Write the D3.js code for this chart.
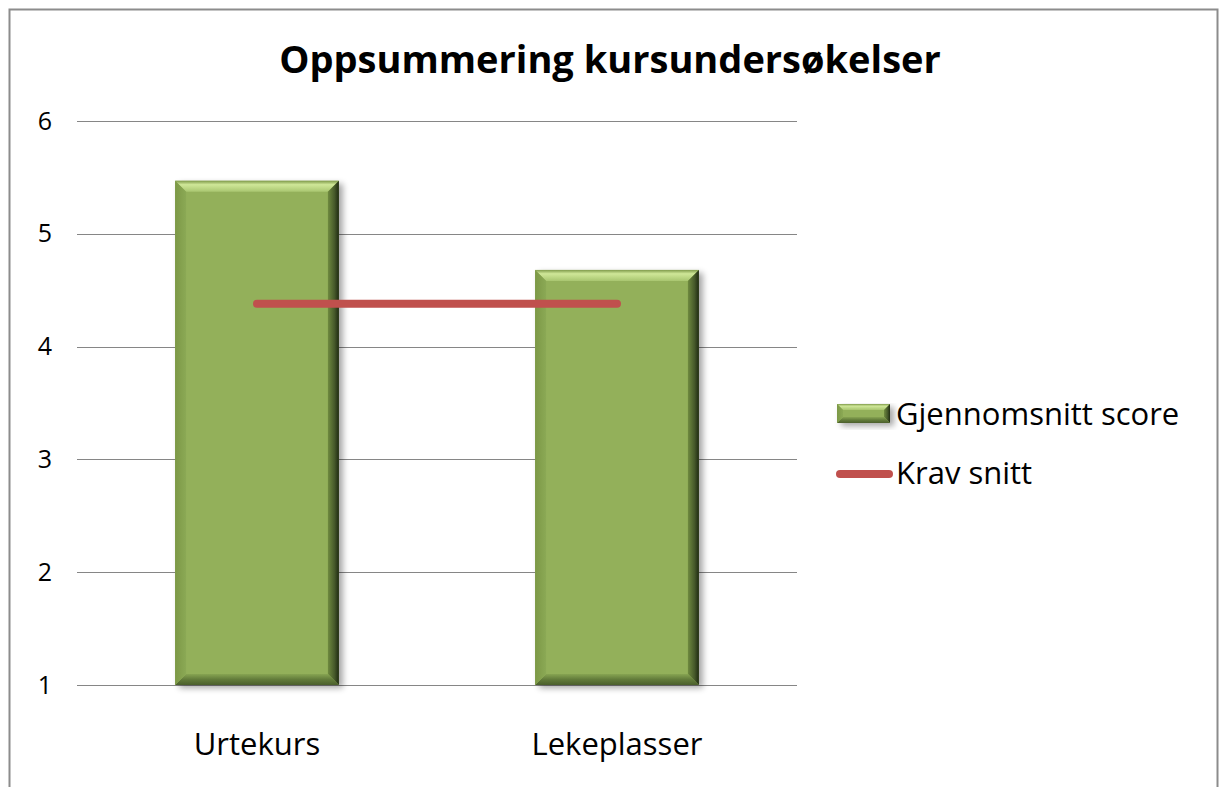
<!DOCTYPE html>
<html>
<head>
<meta charset="utf-8">
<script src="https://cdn.jsdelivr.net/npm/d3@7"></script>
<style>
  html, body { margin: 0; padding: 0; background: #fff; }
  svg { display: block; font-family: "Open Sans", sans-serif; }
</style>
</head>
<body>
<svg id="chart" width="1219" height="787"></svg>
<script>
// chart data
var categories  = [ 'Urtekurs', 'Lekeplasser' ];
var scores      = [ 5.47, 4.68 ];
var krav        = [ 4.38, 4.38 ];
var yTicks      = [ 1, 2, 3, 4, 5, 6 ];
var title       = 'Oppsummering kursundersøkelser';
var seriesNames = [ 'Gjennomsnitt score', 'Krav snitt' ];

var margin = { top: 121, left: 77, right: 422, bottom: 102 },
    width  = 1219 - margin.left - margin.right,
    height = 787 - margin.top - margin.bottom;

var svg = d3.select( '#chart' );

// outer frame
svg.append( 'rect' )
   .attr( 'x', 9.5 ).attr( 'y', 9.5 )
   .attr( 'width', 1208 ).attr( 'height', 790 )
   .attr( 'fill', 'none' ).attr( 'stroke', '#8c8c8c' ).attr( 'stroke-width', 2 );

var defs = svg.append( 'defs' );
var f = defs.append( 'filter' ).attr( 'id', 'shadow' )
  .attr( 'x', '-20%' ).attr( 'y', '-20%' ).attr( 'width', '140%' ).attr( 'height', '140%' );
f.append( 'feGaussianBlur' ).attr( 'stdDeviation', 3 );

function grad( id, x2, y2, stops ) {
  var lg = defs.append( 'linearGradient' ).attr( 'id', id )
    .attr( 'x1', 0 ).attr( 'y1', 0 ).attr( 'x2', x2 ).attr( 'y2', y2 );
  stops.forEach( function( s ) {
    lg.append( 'stop' ).attr( 'offset', s[ 0 ] ).attr( 'stop-color', s[ 1 ] );
  });
}
grad( 'gTop', 0, 1, [ [ 0, '#7f9a4a' ], [ 0.35, '#cfe798' ], [ 1, '#a9c670' ] ] );
grad( 'gRight', 1, 0, [ [ 0, '#6f8a3f' ], [ 0.6, '#46592a' ], [ 1, '#1f2a12' ] ] );
grad( 'gBottom', 0, 1, [ [ 0, '#87a452' ], [ 0.5, '#627b3a' ], [ 1, '#4b5f2c' ] ] );
grad( 'gLeft', 1, 0, [ [ 0, '#7c9846' ], [ 1, '#8ba955' ] ] );

svg.append( 'text' )
   .attr( 'x', 610 ).attr( 'y', 73 )
   .attr( 'text-anchor', 'middle' )
   .attr( 'font-size', 38 ).attr( 'font-weight', 'bold' )
   .text( title );

var g = svg.append( 'g' )
   .attr( 'transform', 'translate(' + margin.left + ',' + margin.top + ')' );

var xScale = d3.scaleBand()
   .domain( categories )
   .range( [ 0, width ] )
   .paddingInner( 0.545 ).paddingOuter( 0.2725 );

var xPoint = d3.scalePoint()
   .domain( categories )
   .range( [ 0, width ] )
   .padding( 0.5 );

var yScale = d3.scaleLinear()
   .domain( [ 1, 6 ] )
   .range( [ height, 0 ] );

// grid lines
g.selectAll( '.grid' )
 .data( yTicks )
 .enter()
 .append( 'line' )
   .attr( 'x1', 0 ).attr( 'x2', width )
   .attr( 'y1', function( d ) { return Math.round( yScale( d ) ) + 0.5; } )
   .attr( 'y2', function( d ) { return Math.round( yScale( d ) ) + 0.5; } )
   .attr( 'stroke', '#868686' ).attr( 'stroke-width', 1 );

var yAxis = d3.axisLeft( yScale ).tickValues( yTicks ).tickFormat( d3.format( 'd' ) )
   .tickSize( 0 ).tickPadding( 25 );
var yG = g.append( 'g' ).call( yAxis );
yG.select( '.domain' ).remove();
yG.selectAll( 'text' ).attr( 'font-size', 25 ).attr( 'fill', '#000' )
  .attr( 'font-family', '"Open Sans", sans-serif' );

var xAxis = d3.axisBottom( xScale ).tickSize( 0 );
var xG = g.append( 'g' ).attr( 'transform', 'translate(0,' + height + ')' ).call( xAxis );
xG.select( '.domain' ).remove();
xG.selectAll( 'text' ).attr( 'font-size', 31 ).attr( 'fill', '#000' )
  .attr( 'y', 70 ).attr( 'dy', 0 )
  .attr( 'font-family', '"Open Sans", sans-serif' );

// bevelled bars
function bevelBar( sel, x, y, w, h, b ) {
  sel.append( 'rect' )
     .attr( 'x', x + 4 ).attr( 'y', y + 3 ).attr( 'width', w ).attr( 'height', h )
     .attr( 'fill', '#000' ).attr( 'opacity', 0.35 ).attr( 'filter', 'url(#shadow)' );
  sel.append( 'rect' )
     .attr( 'x', x ).attr( 'y', y ).attr( 'width', w ).attr( 'height', h )
     .attr( 'fill', '#93b05a' );
  var faces = [
    { pts: [ [x, y], [x + w, y], [x + w - b, y + b], [x + b, y + b] ], fill: 'url(#gTop)' },
    { pts: [ [x + w, y], [x + w, y + h], [x + w - b, y + h - b], [x + w - b, y + b] ], fill: 'url(#gRight)' },
    { pts: [ [x, y + h], [x + w, y + h], [x + w - b, y + h - b], [x + b, y + h - b] ], fill: 'url(#gBottom)' },
    { pts: [ [x, y], [x, y + h], [x + b, y + h - b], [x + b, y + b] ], fill: 'url(#gLeft)' }
  ];
  faces.forEach( function( fc ) {
    sel.append( 'polygon' )
       .attr( 'points', fc.pts.map( function( p ) { return p.join( ',' ); } ).join( ' ' ) )
       .attr( 'fill', fc.fill );
  });
}

categories.forEach( function( c, i ) {
  var x = xScale( c ), y = yScale( scores[ i ] );
  bevelBar( g.append( 'g' ), x, y, xScale.bandwidth(), yScale( 1 ) - y, 11 );
});

// krav line
var line = d3.line()
   .x( function( d, i ) { return xPoint( categories[ i ] ); } )
   .y( function( d ) { return yScale( d ); } );

g.append( 'path' )
 .datum( krav )
 .attr( 'd', line )
 .attr( 'fill', 'none' )
 .attr( 'stroke', '#c0504d' ).attr( 'stroke-width', 8 )
 .attr( 'stroke-linecap', 'round' );

// legend
var leg = svg.append( 'g' );
bevelBar( leg, 837, 404, 53, 19, 6 );
leg.append( 'text' )
   .attr( 'x', 896 ).attr( 'y', 425 )
   .attr( 'font-size', 31 )
   .text( seriesNames[ 0 ] );
leg.append( 'line' )
   .attr( 'x1', 840 ).attr( 'x2', 889 )
   .attr( 'y1', 474 ).attr( 'y2', 474 )
   .attr( 'stroke', '#c0504d' ).attr( 'stroke-width', 8 )
   .attr( 'stroke-linecap', 'round' );
leg.append( 'text' )
   .attr( 'x', 896 ).attr( 'y', 484 )
   .attr( 'font-size', 31 )
   .text( seriesNames[ 1 ] );
</script>
</body>
</html>
